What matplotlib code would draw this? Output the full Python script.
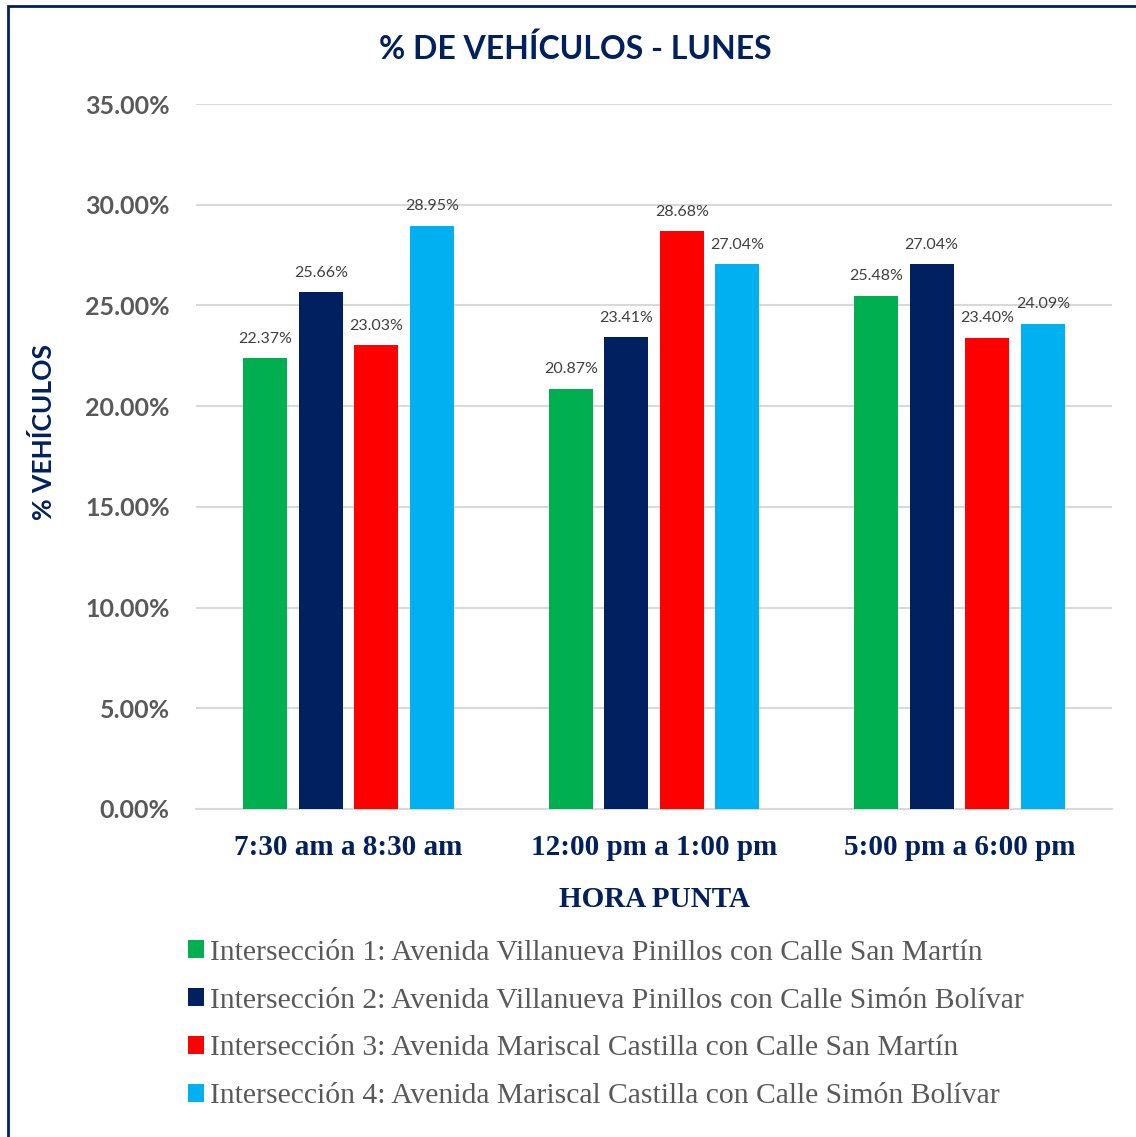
#% de vehiculos - lunes
#bar chart of the four intersections per peak hour

import matplotlib
matplotlib.use("Agg")
import matplotlib.pyplot as plt
from matplotlib.patches import Rectangle
import numpy as np

#Data
horas = ["7:30 am a 8:30 am", "12:00 pm a 1:00 pm", "5:00 pm a 6:00 pm"]
int1 = [22.37, 20.87, 25.48]
int2 = [25.66, 23.41, 27.04]
int3 = [23.03, 28.68, 23.40]
int4 = [28.95, 27.04, 24.09]
nombres = ["Intersección 1: Avenida Villanueva Pinillos con Calle San Martín",
           "Intersección 2: Avenida Villanueva Pinillos con Calle Simón Bolívar",
           "Intersección 3: Avenida Mariscal Castilla con Calle San Martín",
           "Intersección 4: Avenida Mariscal Castilla con Calle Simón Bolívar"]
colores = ["#00B050", "#002060", "#FF0000", "#00B0F0"]
yticks = [0, 5, 10, 15, 20, 25, 30, 35]

navy = "#002060"
gris = "#595959"
sans = ["Lato", "DejaVu Sans"]
serif = ["Liberation Serif", "DejaVu Serif"]

fig = plt.figure(figsize=(11.36, 11.37), dpi=100)
ax = fig.add_axes([0.1725, 0.2885, 0.8065, 0.62])

x = np.arange(len(horas))
step = 0.182
width = 0.144
series = [int1, int2, int3, int4]
barras = []
for i, vals in enumerate(series):
    pos = x + (i - 1.5) * step
    b = ax.bar(pos, vals, width, color=colores[i], label=nombres[i], zorder=3)
    barras.append(b)
    for px, v in zip(pos, vals):
        ax.annotate(f"{v:.2f}%", (px, v), xytext=(0, 9), textcoords="offset points",
                    ha="center", va="bottom", fontsize=11.5, color="#404040",
                    family=sans)

ax.set_xlim(-0.5, 2.5)
ax.set_ylim(0, 35)
ax.set_yticks(yticks)
ax.set_yticklabels([f"{t:.2f}%" for t in yticks], family=sans, fontweight="bold",
                   fontsize=18, color=gris)
ax.set_xticks(x)
ax.set_xticklabels(horas, family=serif, fontweight="bold", fontsize=21, color=navy)
ax.tick_params(axis="y", length=0, pad=19)
ax.tick_params(axis="x", length=0, pad=18)
ax.grid(axis="y", color="#D9D9D9", linewidth=1.5, zorder=0)
for s in ["top", "right", "left"]:
    ax.spines[s].set_visible(False)
ax.spines["bottom"].set_color("#D9D9D9")
ax.spines["bottom"].set_linewidth(1.5)

ax.set_xlabel("HORA PUNTA", family=serif, fontweight="bold", fontsize=21,
              color=navy, labelpad=18)
fig.text(0.038, 0.62, "% VEHÍCULOS", rotation=90, ha="center", va="center",
         family=sans, fontweight="bold", fontsize=19, color=navy)
fig.text(0.506, 0.957, "% DE VEHÍCULOS - LUNES", ha="center", va="center",
         family=sans, fontweight="bold", fontsize=23, color=navy)

leg = fig.legend(handles=barras, loc="upper left", bbox_to_anchor=(0.142, 0.197),
                 frameon=False, prop={"family": serif, "size": 21.3},
                 handlelength=0.55, handleheight=0.55, handletextpad=0.2,
                 labelspacing=0.74)
for t in leg.get_texts():
    t.set_color(gris)

#outer frame
fig.patches.append(Rectangle((0.007, -0.01), 1.1, 1.005, transform=fig.transFigure,
                             fill=False, edgecolor=navy, linewidth=2))

fig.savefig("out.png", dpi=100)
